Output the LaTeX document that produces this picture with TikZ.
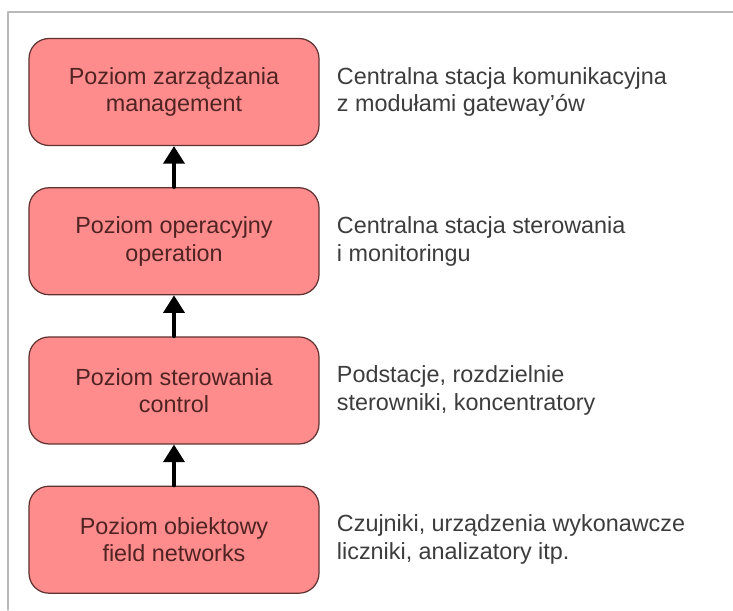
\documentclass[tikz,border=0pt]{standalone}
\usepackage{fontspec}
\setmainfont{Liberation Sans}
\usetikzlibrary{arrows.meta}
\usetikzlibrary{positioning}
\definecolor{levelfill}{RGB}{255,140,140}
\definecolor{leveldraw}{RGB}{95,50,50}
\definecolor{leveltext}{RGB}{80,35,35}
\definecolor{desctext}{RGB}{60,60,60}

\begin{document}
\begin{tikzpicture}[line cap = round, line join = round, node distance=0.82cm]
\tikzstyle{level}=[draw=leveldraw, fill=levelfill, line width=0.7pt, rounded corners=0.4cm, minimum width=5.8cm, minimum height=2.14cm, align=center, text=leveltext, font=\fontsize{13.3}{15.7}\selectfont]
\tikzstyle{desc}=[anchor=west, align=left, inner sep=0pt, text=desctext, font=\fontsize{13.3}{15.7}\selectfont]
\tikzstyle{uplink}=[line width=2pt, color=black, -{Triangle[length=10pt,width=12pt]}]
\useasboundingbox (0,0) rectangle (14.66,-12.2);
\draw[color=gray!55, line width=0.8pt] (0.16,-12.2) -- (0.16,-0.24) -- (14.66,-0.24);

\node[level] (mgmt) at (3.48,-1.84) {Poziom zarządzania\\management};
\node[level, below=of mgmt] (oper) {Poziom operacyjny\\operation};
\node[level, below=of oper] (ctrl) {Poziom sterowania\\control};
\node[level, below=of ctrl] (field) {Poziom obiektowy\\field networks};

\node[desc] (mgmtdesc) at ([xshift=0.34cm]mgmt.east) {Centralna stacja komunikacyjna\\z modułami gateway’ów};
\node[desc] (operdesc) at ([xshift=0.34cm]oper.east) {Centralna stacja sterowania\\i monitoringu};
\node[desc] (ctrldesc) at ([xshift=0.34cm]ctrl.east) {Podstacje, rozdzielnie\\sterowniki, koncentratory};
\node[desc] (fielddesc) at ([xshift=0.34cm]field.east) {Czujniki, urządzenia wykonawcze\\liczniki, analizatory itp.};

\draw[uplink] (oper) -- (mgmt);
\draw[uplink] (ctrl) -- (oper);
\draw[uplink] (field) -- (ctrl);
\end{tikzpicture}
\end{document}
